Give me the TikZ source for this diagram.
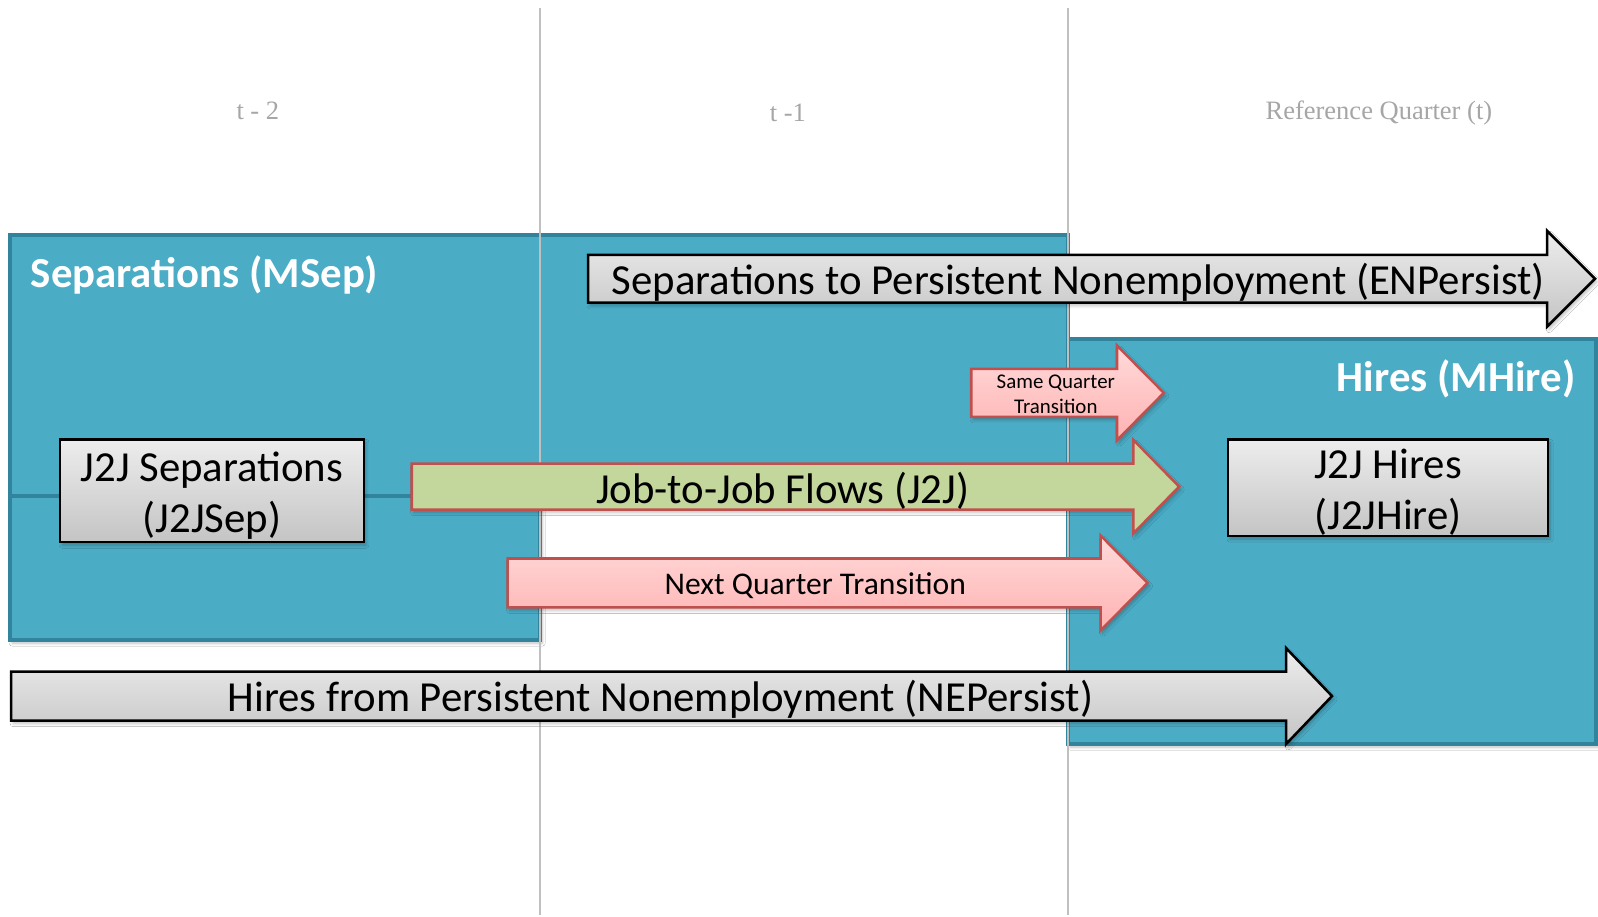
\documentclass[tikz,border=0pt]{standalone}
\usepackage{fontspec}
\setmainfont{Carlito}
\newfontfamily\timesf{Liberation Serif}
\usetikzlibrary{shadows.blur}
\definecolor{cBlue}{HTML}{4BACC6}
\definecolor{cBlueDark}{HTML}{31849B}
\definecolor{cRed}{HTML}{C0504D}
\definecolor{cGreen}{HTML}{C3D69B}
\definecolor{cPinkTop}{HTML}{FFDADA}
\definecolor{cPinkBot}{HTML}{FFB2B2}
\definecolor{cGrayTop}{HTML}{EDEDED}
\definecolor{cGrayBot}{HTML}{C4C4C4}
\definecolor{cLine}{HTML}{C0C0C0}
\definecolor{cLabel}{HTML}{A6A6A6}
\newcommand{\flowarrow}[8]{%
  \path[#1] (#2,{#5-#6}) -- (#3,{#5-#6}) -- (#3,{#5-#7}) -- (#4,#5) -- (#3,{#5+#7}) -- (#3,{#5+#6}) -- (#2,{#5+#6}) -- cycle;
  \coordinate (#8) at (#4,#5);}
\tikzset{
  softshadow/.style={blur shadow={shadow blur steps=6, shadow xshift=2pt, shadow yshift=-3pt, shadow opacity=25, shadow blur radius=3pt}},
  bluebox/.style={fill=cBlue, draw=cBlueDark, line width=4pt},
  qline/.style={draw=cLine, line width=1.5pt},
  qlabel/.style={font=\timesf\fontsize{26}{30}\selectfont, text=cLabel, inner sep=0pt},
  grayarrow/.style={draw=black, line width=2.5pt, top color=cGrayTop, bottom color=cGrayBot, softshadow},
  pinkarrow/.style={draw=cRed, line width=2.5pt, top color=cPinkTop, bottom color=cPinkBot, softshadow},
  greenarrow/.style={draw=cRed, line width=2.5pt, fill=cGreen, softshadow},
  bigtext/.style={font=\fontsize{42}{50}\selectfont, inner sep=0pt, align=center},
  headtext/.style={font=\bfseries\fontsize{42}{50}\selectfont, text=white, inner sep=0pt},
  graybox/.style={draw=black, line width=2.5pt, top color=cGrayTop, bottom color=cGrayBot, softshadow, inner sep=0pt},
}
\begin{document}
\begin{tikzpicture}[x=1pt,y=-1pt]
\useasboundingbox (0,0) rectangle (1568,899);
\fill[white] (0,0) rectangle (1568,899);
% blue boxes
\path[bluebox, softshadow] (10,487) rectangle (530,628);
\path[bluebox] (10,231) rectangle (1048,487);
\path[bluebox, softshadow] (1048,333) rectangle (1566,730);
% quarter lines
\coordinate (l1t) at (530,8); \coordinate (l1b) at (530,898);
\coordinate (l2t) at (1048,8); \coordinate (l2b) at (1048,898);
\draw[qline] (l1t) -- (l1b);
\draw[qline] (l2t) -- (l2b);
% quarter labels
\node[qlabel] (qt2) at (253,108.5) {t - 2};
\node[qlabel] (qt1) at (773,110.5) {t -1};
\node[qlabel] (qt0) at (1353,110.5) {Reference Quarter (t)};
% arrows
\flowarrow{grayarrow}{577}{1518}{1565}{273.5}{23.5}{47}{enptip}
\flowarrow{pinkarrow}{953}{1096}{1142}{385.5}{23.5}{46.5}{sqtip}
\flowarrow{greenarrow}{404}{1112}{1157}{477.5}{22.5}{46}{jjtip}
\flowarrow{pinkarrow}{498}{1080}{1126}{572}{24}{46.5}{nqtip}
\flowarrow{grayarrow}{11}{1262}{1307}{683}{24}{47}{neptip}
% arrow texts
\node[bigtext] (enp) at (1058,277) {Separations to Persistent Nonemployment (ENPersist)};
\node[font=\fontsize{20.5}{24}\selectfont, inner sep=0pt, align=center] (sq) at (1036,387) {Same Quarter\\Transition};
\node[bigtext] (jj) at (768,482) {Job-to-Job Flows (J2J)};
\node[font=\fontsize{31}{36}\selectfont, inner sep=0pt] (nq) at (800,575) {Next Quarter Transition};
\node[bigtext] (nep) at (648,686) {Hires from Persistent Nonemployment (NEPersist)};
% headings
\node[headtext, anchor=west] (msep) at (30,270) {Separations (MSep)};
\node[headtext, anchor=east] (mhire) at (1546,372) {Hires (MHire)};
% gray boxes
\node[graybox, minimum width=298pt, minimum height=101pt] (jsep) at (208,481.5) {};
\node[bigtext, yshift=-5pt] (jseptext) at (jsep.center) {J2J Separations\\(J2JSep)};
\node[graybox, minimum width=314pt, minimum height=95pt] (jhire) at (1362,478.5) {};
\node[bigtext, yshift=-4.5pt] (jhiretext) at (jhire.center) {J2J Hires\\(J2JHire)};
\end{tikzpicture}
\end{document}
